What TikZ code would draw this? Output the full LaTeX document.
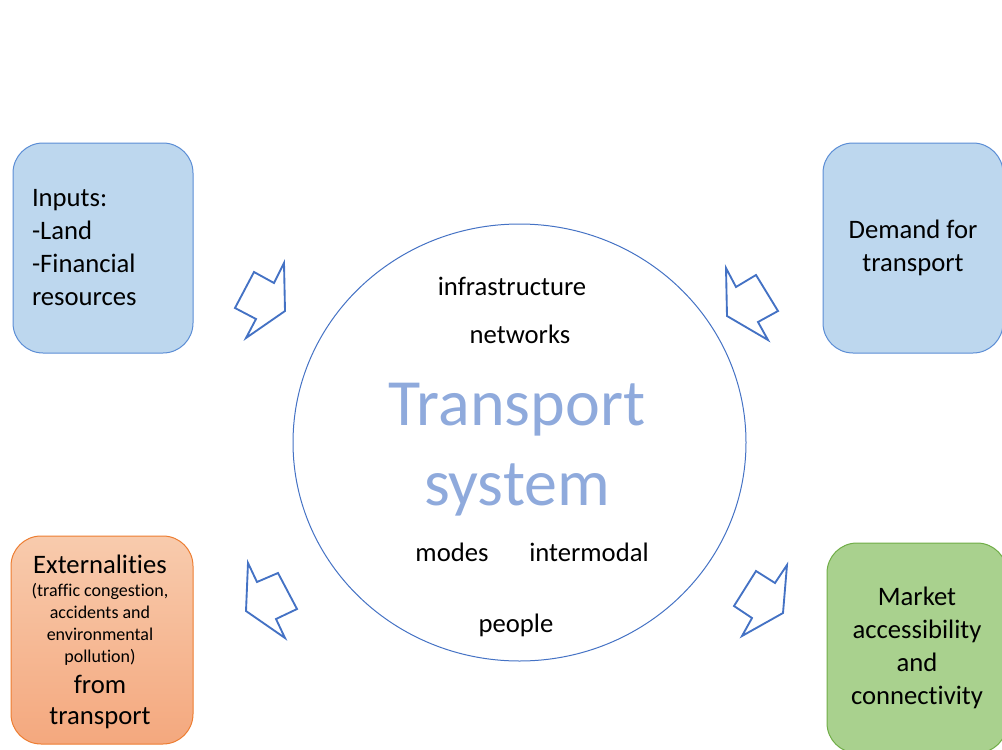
\documentclass[tikz,border=0pt]{standalone}
\usepackage{fontspec}
\setmainfont{Carlito}[Ligatures=NoCommon]
\usetikzlibrary{shapes.geometric}

\definecolor{boxblue}{RGB}{189,215,238}
\definecolor{edgeblue}{RGB}{91,141,213}
\definecolor{arrowblue}{RGB}{68,114,196}
\definecolor{titleblue}{RGB}{143,170,220}
\definecolor{orangetop}{RGB}{248,203,173}
\definecolor{orangebot}{RGB}{244,168,126}
\definecolor{orangeedge}{RGB}{237,125,49}
\definecolor{boxgreen}{RGB}{169,209,142}
\definecolor{greenedge}{RGB}{112,173,71}

\tikzset{
  box/.style={draw, rounded corners=22.5pt, minimum width=135pt, minimum height=157.5pt,
    inner sep=0pt, line width=.75pt, font=\fontsize{20}{24.75}\selectfont, align=center},
  word/.style={font=\fontsize{20}{24.75}\selectfont, anchor=base},
  smallword/.style={font=\fontsize{13.5}{16.5}\selectfont, anchor=base},
  blockarrow/.style={draw=arrowblue, line width=1.4pt, line join=miter}
}

\begin{document}
\begin{tikzpicture}[x=.75pt,y=-.75pt]
  \useasboundingbox (0,0) rectangle (1002,749);
  \clip (0,0) rectangle (1002,749);

  % side boxes
  \node[box, fill=boxblue, draw=edgeblue, text width=106.5pt, align=left] (inputs) at (103,248)
    {Inputs:\\-Land\\-Financial\\resources};
  \node[box, fill=boxblue, draw=edgeblue, text depth=4pt] (demand) at (913,248) {Demand for\\transport};
  \node[box, fill=boxgreen, draw=greenedge, text depth=4pt] (market) at (917,648)
    {Market\\accessibility\\and\\connectivity};
  \node[box, top color=orangetop, bottom color=orangebot, draw=orangeedge,
    minimum width=136.5pt, minimum height=156pt] (extern) at (102,640) {};

  % text of the externalities box
  \node[word] (exttitle) at (100,573) {Externalities};
  \node[smallword] (extone) at (100,596) {(traffic congestion,};
  \node[smallword] (exttwo) at (100,618) {accidents and};
  \node[smallword] (extthree) at (100,640) {environmental};
  \node[smallword] (extfour) at (100,662) {pollution)};
  \node[word] (extfrom) at (100,693) {from};
  \node[word] (exttransport) at (100,724) {transport};

  % the system
  \node[draw=arrowblue, ellipse, minimum width=339.75pt, minimum height=327.75pt,
    inner sep=0pt, line width=.75pt] (system) at (519.5,442.5) {};
  \node[font=\fontsize{49.5}{60}\selectfont, text=titleblue, align=center] (title) at (517,450)
    {Transport\\system};
  \node[word] (infra) at (512,295) {infrastructure};
  \node[word] (netw) at (520,343) {networks};
  \node[word] (modes) at (452,561) {modes};
  \node[word] (intermod) at (589,561) {intermodal};
  \node[word] (people) at (516,632) {people};

  % block arrows
  \draw[blockarrow] (284,263) -- (285,311) -- (246,338) -- (256,319) -- (235,308) -- (254,272) -- (274,283) -- cycle;
  \draw[blockarrow] (726,268) -- (736,287) -- (756,275) -- (778,311) -- (758,322) -- (768,340) -- (727,316) -- cycle;
  \draw[blockarrow] (248,563) -- (257,582) -- (278,573) -- (297,609) -- (276,619) -- (285,638) -- (246,611) -- cycle;
  \draw[blockarrow] (787,565) -- (783,613) -- (742,636) -- (752,618) -- (734,606) -- (756,571) -- (775,583) -- cycle;
\end{tikzpicture}
\end{document}
